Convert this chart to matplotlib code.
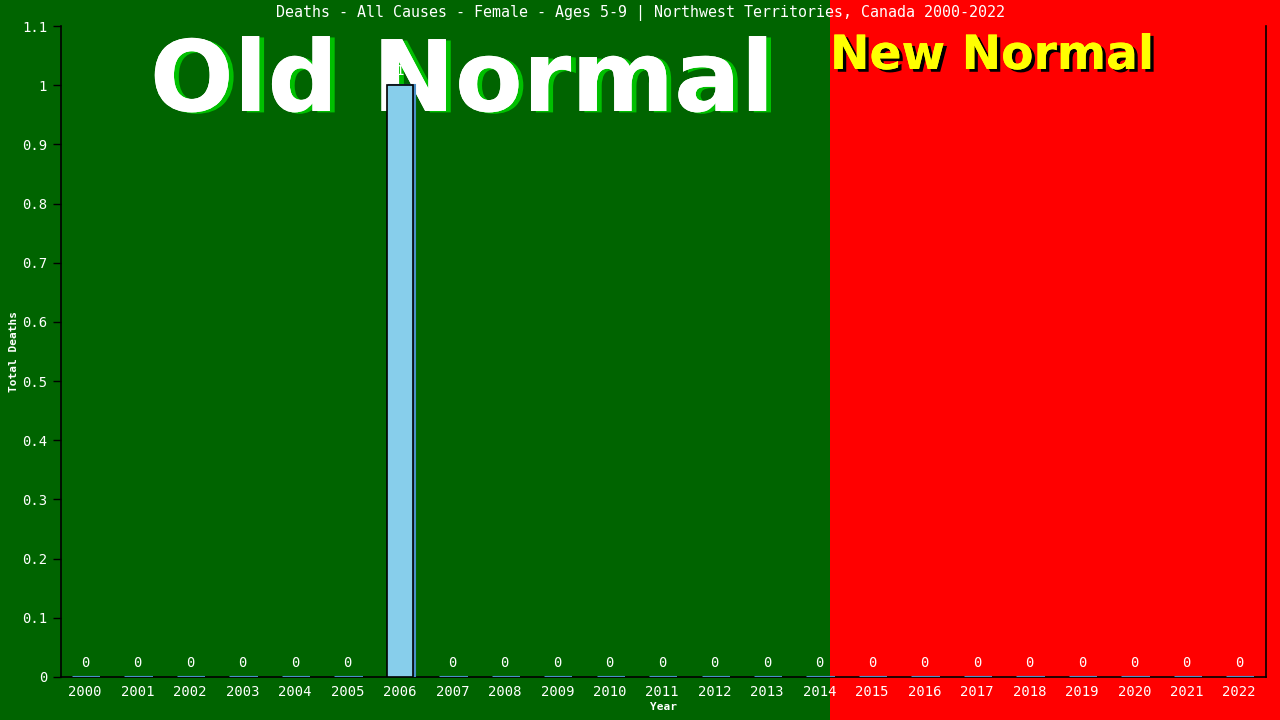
import matplotlib
matplotlib.use("Agg")
import matplotlib.pyplot as plt
import matplotlib.patheffects as pe
from matplotlib.patches import Rectangle

years = [str(y) for y in range(2000, 2023)]
deaths = [0, 0, 0, 0, 0, 0, 1, 0, 0, 0, 0, 0, 0, 0, 0, 0, 0, 0, 0, 0, 0, 0, 0]
yticks = [0, 0.1, 0.2, 0.3, 0.4, 0.5, 0.6, 0.7, 0.8, 0.9, 1.0, 1.1]
ytick_labels = ["0", "0.1", "0.2", "0.3", "0.4", "0.5", "0.6", "0.7", "0.8", "0.9", "1", "1.1"]

MONO = "DejaVu Sans Mono"

fig = plt.figure(figsize=(12.8, 7.2), dpi=100)
fig.patches.append(Rectangle((0, 0), 830 / 1280, 1, transform=fig.transFigure,
                             facecolor="#006400", edgecolor="none", zorder=-10))
fig.patches.append(Rectangle((830 / 1280, 0), 1 - 830 / 1280, 1, transform=fig.transFigure,
                             facecolor="#ff0000", edgecolor="none", zorder=-10))

ax = fig.add_axes([61 / 1280, 1 - 677 / 720, (1266 - 61) / 1280, (677 - 26) / 720])
ax.patch.set_visible(False)
ax.set_zorder(1)

x = list(range(len(years)))
# shadow bars
ax.bar([i + 0.04 for i in x], deaths, width=0.5, color="#4682b4", edgecolor="#4a90c8",
       linewidth=1.5, zorder=2)
ax.bar(x, deaths, width=0.5, color="#87ceeb",
       edgecolor=["black" if d > 0 else "#4a90c8" for d in deaths],
       linewidth=[1.2 if d > 0 else 2.2 for d in deaths], zorder=3)

for i, d in enumerate(deaths):
    ax.text(i, d + 0.012, f"{d:g}", ha="center", va="bottom", color="white",
            fontsize=10, family=MONO, zorder=6)

ax.set_xlim(-0.46, 22.51)
ax.set_ylim(0, 1.1)
ax.set_xticks(x)
ax.set_xticklabels(years, color="white", fontsize=10, family=MONO)
ax.tick_params(axis="x", length=0, pad=6)
ax.set_yticks(yticks)
ax.set_yticklabels(ytick_labels, color="white", fontsize=10, family=MONO)
ax.tick_params(axis="y", length=6, width=1, color="black", direction="out", pad=4)

ax.spines["top"].set_visible(False)
for s in ["left", "right", "bottom"]:
    ax.spines[s].set_color("black")
    ax.spines[s].set_linewidth(1.2)
    ax.spines[s].set_zorder(1)

ax.set_xlabel("Year", color="white", fontsize=8, family=MONO, fontweight="bold", labelpad=2)
ax.set_ylabel("Total Deaths", color="white", fontsize=8, family=MONO, fontweight="bold", labelpad=2)

fig.text(640 / 1280, 1 - 13 / 720, "Deaths - All Causes - Female - Ages 5-9 | Northwest Territories, Canada 2000-2022",
         ha="center", va="center", color="white", fontsize=10.8, family=MONO, zorder=5)

fig.text(462 / 1280, 1 - 111 / 720, "Old Normal", ha="center", va="baseline",
         color="white", fontsize=71, fontweight="bold", family="DejaVu Sans", zorder=-1,
         path_effects=[pe.withSimplePatchShadow(offset=(3.5, -1), shadow_rgbFace="#00c000", alpha=1.0),
                       pe.Normal()])
fig.text(830 / 1280, 1 - 69 / 720, "New Normal", ha="left", va="baseline",
         color="#ffff00", fontsize=34, fontweight="bold", family="DejaVu Sans", zorder=-1,
         path_effects=[pe.withSimplePatchShadow(offset=(2.5, -2), shadow_rgbFace="black", alpha=1.0),
                       pe.Normal()])

fig.savefig("out.png", dpi=100)
